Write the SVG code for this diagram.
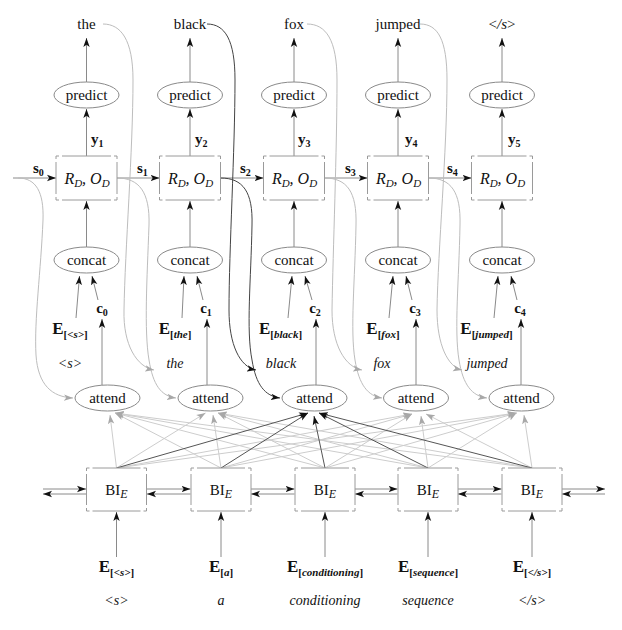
<svg xmlns="http://www.w3.org/2000/svg" width="622" height="630" viewBox="0 0 622 630">
<defs>
<style>
text{font-family:"Liberation Serif","DejaVu Serif",serif;fill:#111}
.w{font-size:15px}
.it{font-size:14px;font-style:italic}
.b{font-size:15px;font-weight:bold}
.E{font-size:17px;font-weight:bold}
.sub{font-size:11px}
.nl{font-size:15px}
.rd{font-size:16px;font-style:italic}
.box{fill:#fff;stroke:#9a9a9a;stroke-width:1}
.rbox{stroke-dasharray:3 3 49 3 6 3 32 3 6 3 49 3 6 3 32 3 3 0}
.bbox{stroke-dasharray:3 3 48 3 6 3 31 3 6 3 48 3 6 3 31 3 3 0}
.ell{fill:#fff;stroke:#8a8a8a;stroke-width:1}
.ar{stroke:#8a8a8a;fill:none;stroke-width:1;marker-end:url(#ak)}
.lt{stroke:#cdcdcd;fill:none;stroke-width:1;marker-end:url(#ag)}
.dk{stroke:#555;fill:none;stroke-width:1;marker-end:url(#ak)}
.cv{stroke:#bdbdbd;fill:none;stroke-width:1;marker-end:url(#ag)}
.cvd{stroke:#444;fill:none;stroke-width:1;marker-end:url(#ak)}
</style>
<marker id="ak" viewBox="0 -4 10 8" refX="9" refY="0" markerWidth="10" markerHeight="8" markerUnits="userSpaceOnUse" orient="auto"><path d="M0,-3.2 L9,0 L0,3.2 L2.2,0 z" fill="#111"/></marker>
<marker id="ag" viewBox="0 -4 10 8" refX="9" refY="0" markerWidth="10" markerHeight="8" markerUnits="userSpaceOnUse" orient="auto"><path d="M0,-3.2 L9,0 L0,3.2 L2.2,0 z" fill="#a8a8a8"/></marker>
</defs>

<g id="connectors">
<!-- attention: light -->
<path class="lt" d="M116.5,468 L110,415"/>
<path class="lt" d="M221,468 L115,413"/>
<path class="lt" d="M325,468 L115,413"/>
<path class="lt" d="M428,468 L115,413"/>
<path class="lt" d="M532,468 L115,413"/>
<path class="lt" d="M116.5,468 L205.5,413"/>
<path class="lt" d="M221,468 L213,415"/>
<path class="lt" d="M325,468 L218,413"/>
<path class="lt" d="M428,468 L218,413"/>
<path class="lt" d="M532,468 L218,413"/>
<path class="lt" d="M116.5,468 L412,414"/>
<path class="lt" d="M221,468 L412,414"/>
<path class="lt" d="M325,468 L412,414"/>
<path class="lt" d="M428,468 L421,416"/>
<path class="lt" d="M532,468 L426,414"/>
<path class="lt" d="M116.5,468 L516.5,413"/>
<path class="lt" d="M221,468 L516.5,413"/>
<path class="lt" d="M325,468 L516.5,413"/>
<path class="lt" d="M428,468 L516.5,413"/>
<path class="lt" d="M532,468 L524,415"/>
<!-- attention: dark -->
<path class="dk" d="M116.5,468 L308,413"/>
<path class="dk" d="M221,468 L308,413"/>
<path class="dk" d="M325,468 L314,416"/>
<path class="dk" d="M428,468 L319,413"/>
<path class="dk" d="M532,468 L319,413"/>

<!-- encoder horizontal -->
<path class="ar" d="M43,489 L86,489"/><path class="ar" d="M86,494 L43,494"/>
<path class="ar" d="M147,489 L190.5,489"/><path class="ar" d="M190.5,494 L147,494"/>
<path class="ar" d="M251,489 L294.5,489"/><path class="ar" d="M294.5,494 L251,494"/>
<path class="ar" d="M355,489 L397.5,489"/><path class="ar" d="M397.5,494 L355,494"/>
<path class="ar" d="M458,489 L501.5,489"/><path class="ar" d="M501.5,494 L458,494"/>
<path class="ar" d="M562,489 L605,489"/><path class="ar" d="M605,494 L562,494"/>

<!-- embeddings to encoder -->
<path class="ar" d="M116.5,557 L116.5,512"/>
<path class="ar" d="M221,557 L221,512"/>
<path class="ar" d="M325,557 L325,512"/>
<path class="ar" d="M428,557 L428,512"/>
<path class="ar" d="M532,557 L532,512"/>

<!-- attend to c -->
<path class="ar" d="M102,385 L102,319"/>
<path class="ar" d="M207,385 L207,319"/>
<path class="ar" d="M316,385 L316,319"/>
<path class="ar" d="M416,385 L416,319"/>
<path class="ar" d="M521,385 L521,319"/>

<!-- E and c to concat -->
<path class="ar" d="M76,318 L79.5,276"/><path class="ar" d="M98,300 L92,276"/>
<path class="ar" d="M182,318 L184,276"/><path class="ar" d="M203,300 L197,276"/>
<path class="ar" d="M288,318 L292,276"/><path class="ar" d="M312,300 L305,276"/>
<path class="ar" d="M389,318 L393,276"/><path class="ar" d="M412,300 L406,276"/>
<path class="ar" d="M494,318 L498,276"/><path class="ar" d="M517,300 L511,276"/>

<!-- concat to decoder box -->
<path class="ar" d="M86.5,247 L86.5,201"/>
<path class="ar" d="M190,247 L190,201"/>
<path class="ar" d="M294,247 L294,201"/>
<path class="ar" d="M398,247 L398,201"/>
<path class="ar" d="M502,247 L502,201"/>

<!-- decoder box to predict -->
<path class="ar" d="M86.5,156 L86.5,109"/>
<path class="ar" d="M190,156 L190,109"/>
<path class="ar" d="M294,156 L294,109"/>
<path class="ar" d="M398,156 L398,109"/>
<path class="ar" d="M502,156 L502,109"/>

<!-- predict to word -->
<path class="ar" d="M86.5,82 L86.5,38"/>
<path class="ar" d="M190,82 L190,38"/>
<path class="ar" d="M294,82 L294,38"/>
<path class="ar" d="M398,82 L398,38"/>
<path class="ar" d="M502,82 L502,38"/>

<!-- state arrows -->
<path class="ar" d="M13,178 L56,178"/>
<path class="ar" d="M117,178 L159.5,178"/>
<path class="ar" d="M220.5,178 L263.5,178"/>
<path class="ar" d="M324.5,178 L367.5,178"/>
<path class="ar" d="M428.5,178 L471.5,178"/>

<!-- state curves to attend -->
<path class="cv" d="M18,178 C36,178 44,192 43,220 C41,270 34,320 36,355 C38,385 52,397 73,398"/>
<path class="cv" d="M117,178 C139,178 150,192 149,225 C147,280 144,330 149,360 C153,385 161,396 176,398"/>
<path class="cvd" d="M220.5,178 C243,178 253,192 252,225 C251,280 246,330 252,360 C256,385 265,396 280,398"/>
<path class="cv" d="M324.5,178 C347,178 357,192 356,225 C355,280 350,330 355,360 C359,385 368,396 382,398"/>
<path class="cv" d="M428.5,178 C451,178 461,192 460,225 C459,280 454,330 459,360 C463,385 472,396 487,398"/>

<!-- word curves to next input -->
<path class="cv" d="M103,24 C121,24 133,40 133,80 C133,150 125,250 124,310 C123,345 137,367 154,370"/>
<path class="cvd" d="M207,24 C225,24 235,40 235,80 C235,150 229,250 229,310 C229,345 240,367 256,370"/>
<path class="cv" d="M307,24 C326,24 337,40 337,80 C337,150 333,250 332,310 C332,345 345,367 362,370"/>
<path class="cv" d="M420,24 C438,24 447,40 447,80 C447,150 438,250 437,310 C437,345 448,367 462,370"/>
</g>

<!-- output words -->
<g id="out1"><text class="w" x="86.5" y="29" text-anchor="middle">the</text></g>
<g id="out2"><text class="w" x="190" y="29" text-anchor="middle">black</text></g>
<g id="out3"><text class="w" x="294" y="29" text-anchor="middle">fox</text></g>
<g id="out4"><text class="w" x="398" y="29" text-anchor="middle">jumped</text></g>
<g id="out5"><text class="w" x="502" y="29" text-anchor="middle">&lt;<tspan font-style="italic">/s</tspan>&gt;</text></g>

<!-- predict -->
<g id="predict1"><ellipse class="ell" cx="86.5" cy="95" rx="32.5" ry="13"/><text class="nl" x="86.5" y="99.5" text-anchor="middle">predict</text></g>
<g id="predict2"><ellipse class="ell" cx="190" cy="95" rx="32.5" ry="13"/><text class="nl" x="190" y="99.5" text-anchor="middle">predict</text></g>
<g id="predict3"><ellipse class="ell" cx="294" cy="95" rx="32.5" ry="13"/><text class="nl" x="294" y="99.5" text-anchor="middle">predict</text></g>
<g id="predict4"><ellipse class="ell" cx="398" cy="95" rx="32.5" ry="13"/><text class="nl" x="398" y="99.5" text-anchor="middle">predict</text></g>
<g id="predict5"><ellipse class="ell" cx="502" cy="95" rx="32.5" ry="13"/><text class="nl" x="502" y="99.5" text-anchor="middle">predict</text></g>

<!-- y labels -->
<g id="y1"><text class="b" x="91" y="144">y<tspan dy="3" font-size="10">1</tspan></text></g>
<g id="y2"><text class="b" x="195" y="144">y<tspan dy="3" font-size="10">2</tspan></text></g>
<g id="y3"><text class="b" x="298" y="144">y<tspan dy="3" font-size="10">3</tspan></text></g>
<g id="y4"><text class="b" x="405" y="144">y<tspan dy="3" font-size="10">4</tspan></text></g>
<g id="y5"><text class="b" x="508" y="144">y<tspan dy="3" font-size="10">5</tspan></text></g>

<!-- s labels -->
<g id="s0"><text class="b" x="33" y="173">s<tspan dy="3" font-size="10">0</tspan></text></g>
<g id="s1"><text class="b" x="137" y="173">s<tspan dy="3" font-size="10">1</tspan></text></g>
<g id="s2"><text class="b" x="240" y="173">s<tspan dy="3" font-size="10">2</tspan></text></g>
<g id="s3"><text class="b" x="345" y="173">s<tspan dy="3" font-size="10">3</tspan></text></g>
<g id="s4"><text class="b" x="447" y="173">s<tspan dy="3" font-size="10">4</tspan></text></g>

<!-- decoder boxes -->
<g id="dec1"><rect class="box rbox" x="56" y="156" width="61" height="44"/><text class="rd" x="87" y="184" text-anchor="middle">R<tspan dy="3" font-size="11">D</tspan><tspan dy="-3">, O</tspan><tspan dy="3" font-size="11">D</tspan></text></g>
<g id="dec2"><rect class="box rbox" x="159.5" y="156" width="61" height="44"/><text class="rd" x="190.5" y="184" text-anchor="middle">R<tspan dy="3" font-size="11">D</tspan><tspan dy="-3">, O</tspan><tspan dy="3" font-size="11">D</tspan></text></g>
<g id="dec3"><rect class="box rbox" x="263.5" y="156" width="61" height="44"/><text class="rd" x="294.5" y="184" text-anchor="middle">R<tspan dy="3" font-size="11">D</tspan><tspan dy="-3">, O</tspan><tspan dy="3" font-size="11">D</tspan></text></g>
<g id="dec4"><rect class="box rbox" x="367.5" y="156" width="61" height="44"/><text class="rd" x="398.5" y="184" text-anchor="middle">R<tspan dy="3" font-size="11">D</tspan><tspan dy="-3">, O</tspan><tspan dy="3" font-size="11">D</tspan></text></g>
<g id="dec5"><rect class="box rbox" x="471.5" y="156" width="61" height="44"/><text class="rd" x="502.5" y="184" text-anchor="middle">R<tspan dy="3" font-size="11">D</tspan><tspan dy="-3">, O</tspan><tspan dy="3" font-size="11">D</tspan></text></g>

<!-- concat -->
<g id="concat1"><ellipse class="ell" cx="86.5" cy="260" rx="32.5" ry="13"/><text class="nl" x="86.5" y="264.5" text-anchor="middle">concat</text></g>
<g id="concat2"><ellipse class="ell" cx="190" cy="260" rx="32.5" ry="13"/><text class="nl" x="190" y="264.5" text-anchor="middle">concat</text></g>
<g id="concat3"><ellipse class="ell" cx="294" cy="260" rx="32.5" ry="13"/><text class="nl" x="294" y="264.5" text-anchor="middle">concat</text></g>
<g id="concat4"><ellipse class="ell" cx="398" cy="260" rx="32.5" ry="13"/><text class="nl" x="398" y="264.5" text-anchor="middle">concat</text></g>
<g id="concat5"><ellipse class="ell" cx="502" cy="260" rx="32.5" ry="13"/><text class="nl" x="502" y="264.5" text-anchor="middle">concat</text></g>

<!-- c labels -->
<g id="c0"><text class="b" x="102" y="313" text-anchor="middle">c<tspan dy="3" font-size="10">0</tspan></text></g>
<g id="c1"><text class="b" x="206" y="313" text-anchor="middle">c<tspan dy="3" font-size="10">1</tspan></text></g>
<g id="c2"><text class="b" x="315" y="313" text-anchor="middle">c<tspan dy="3" font-size="10">2</tspan></text></g>
<g id="c3"><text class="b" x="415" y="313" text-anchor="middle">c<tspan dy="3" font-size="10">3</tspan></text></g>
<g id="c4"><text class="b" x="520" y="313" text-anchor="middle">c<tspan dy="3" font-size="10">4</tspan></text></g>

<!-- decoder input embeddings -->
<g id="ed1"><text class="E" x="70" y="334" text-anchor="middle">E<tspan class="sub" dy="4">[<tspan font-style="italic">&lt;s&gt;</tspan>]</tspan></text></g>
<g id="ed2"><text class="E" x="175" y="334" text-anchor="middle">E<tspan class="sub" dy="4">[<tspan font-style="italic">the</tspan>]</tspan></text></g>
<g id="ed3"><text class="E" x="280.5" y="334" text-anchor="middle">E<tspan class="sub" dy="4">[<tspan font-style="italic">black</tspan>]</tspan></text></g>
<g id="ed4"><text class="E" x="383" y="334" text-anchor="middle">E<tspan class="sub" dy="4">[<tspan font-style="italic">fox</tspan>]</tspan></text></g>
<g id="ed5"><text class="E" x="486.5" y="334" text-anchor="middle">E<tspan class="sub" dy="4">[<tspan font-style="italic">jumped</tspan>]</tspan></text></g>

<!-- decoder input words -->
<g id="in1"><text class="it" x="70" y="368" text-anchor="middle">&lt;s&gt;</text></g>
<g id="in2"><text class="it" x="175" y="368" text-anchor="middle">the</text></g>
<g id="in3"><text class="it" x="281" y="368" text-anchor="middle">black</text></g>
<g id="in4"><text class="it" x="382" y="368" text-anchor="middle">fox</text></g>
<g id="in5"><text class="it" x="487" y="368" text-anchor="middle">jumped</text></g>

<!-- attend -->
<g id="attend1"><ellipse class="ell" cx="107.5" cy="398" rx="32.5" ry="13"/><text class="nl" x="107.5" y="402.5" text-anchor="middle">attend</text></g>
<g id="attend2"><ellipse class="ell" cx="210.5" cy="398" rx="32.5" ry="13"/><text class="nl" x="210.5" y="402.5" text-anchor="middle">attend</text></g>
<g id="attend3"><ellipse class="ell" cx="314.5" cy="398" rx="32.5" ry="13"/><text class="nl" x="314.5" y="402.5" text-anchor="middle">attend</text></g>
<g id="attend4"><ellipse class="ell" cx="416" cy="398" rx="32.5" ry="13"/><text class="nl" x="416" y="402.5" text-anchor="middle">attend</text></g>
<g id="attend5"><ellipse class="ell" cx="521.5" cy="398" rx="32.5" ry="13"/><text class="nl" x="521.5" y="402.5" text-anchor="middle">attend</text></g>

<!-- encoder boxes -->
<g id="enc1"><rect class="box bbox" x="86.5" y="468" width="60" height="43"/><text class="nl" x="116.5" y="495" text-anchor="middle" font-size="16">BI<tspan dy="3" font-size="12" font-style="italic">E</tspan></text></g>
<g id="enc2"><rect class="box bbox" x="191" y="468" width="60" height="43"/><text class="nl" x="221" y="495" text-anchor="middle" font-size="16">BI<tspan dy="3" font-size="12" font-style="italic">E</tspan></text></g>
<g id="enc3"><rect class="box bbox" x="295" y="468" width="60" height="43"/><text class="nl" x="325" y="495" text-anchor="middle" font-size="16">BI<tspan dy="3" font-size="12" font-style="italic">E</tspan></text></g>
<g id="enc4"><rect class="box bbox" x="398" y="468" width="60" height="43"/><text class="nl" x="428" y="495" text-anchor="middle" font-size="16">BI<tspan dy="3" font-size="12" font-style="italic">E</tspan></text></g>
<g id="enc5"><rect class="box bbox" x="502" y="468" width="60" height="43"/><text class="nl" x="532" y="495" text-anchor="middle" font-size="16">BI<tspan dy="3" font-size="12" font-style="italic">E</tspan></text></g>

<!-- encoder input embeddings -->
<g id="ee1"><text class="E" x="116.5" y="572" text-anchor="middle">E<tspan class="sub" dy="4">[<tspan font-style="italic">&lt;s&gt;</tspan>]</tspan></text></g>
<g id="ee2"><text class="E" x="221" y="572" text-anchor="middle">E<tspan class="sub" dy="4">[<tspan font-style="italic">a</tspan>]</tspan></text></g>
<g id="ee3"><text class="E" x="325" y="572" text-anchor="middle">E<tspan class="sub" dy="4">[<tspan font-style="italic">conditioning</tspan>]</tspan></text></g>
<g id="ee4"><text class="E" x="428" y="572" text-anchor="middle">E<tspan class="sub" dy="4">[<tspan font-style="italic">sequence</tspan>]</tspan></text></g>
<g id="ee5"><text class="E" x="532" y="572" text-anchor="middle">E<tspan class="sub" dy="4">[<tspan font-style="italic">&lt;/s&gt;</tspan>]</tspan></text></g>

<!-- encoder input words -->
<g id="w1"><text class="it" x="116.5" y="605" text-anchor="middle">&lt;s&gt;</text></g>
<g id="w2"><text class="it" x="221" y="605" text-anchor="middle">a</text></g>
<g id="w3"><text class="it" x="325" y="605" text-anchor="middle">conditioning</text></g>
<g id="w4"><text class="it" x="428" y="605" text-anchor="middle">sequence</text></g>
<g id="w5"><text class="it" x="532" y="605" text-anchor="middle">&lt;/s&gt;</text></g>
</svg>
